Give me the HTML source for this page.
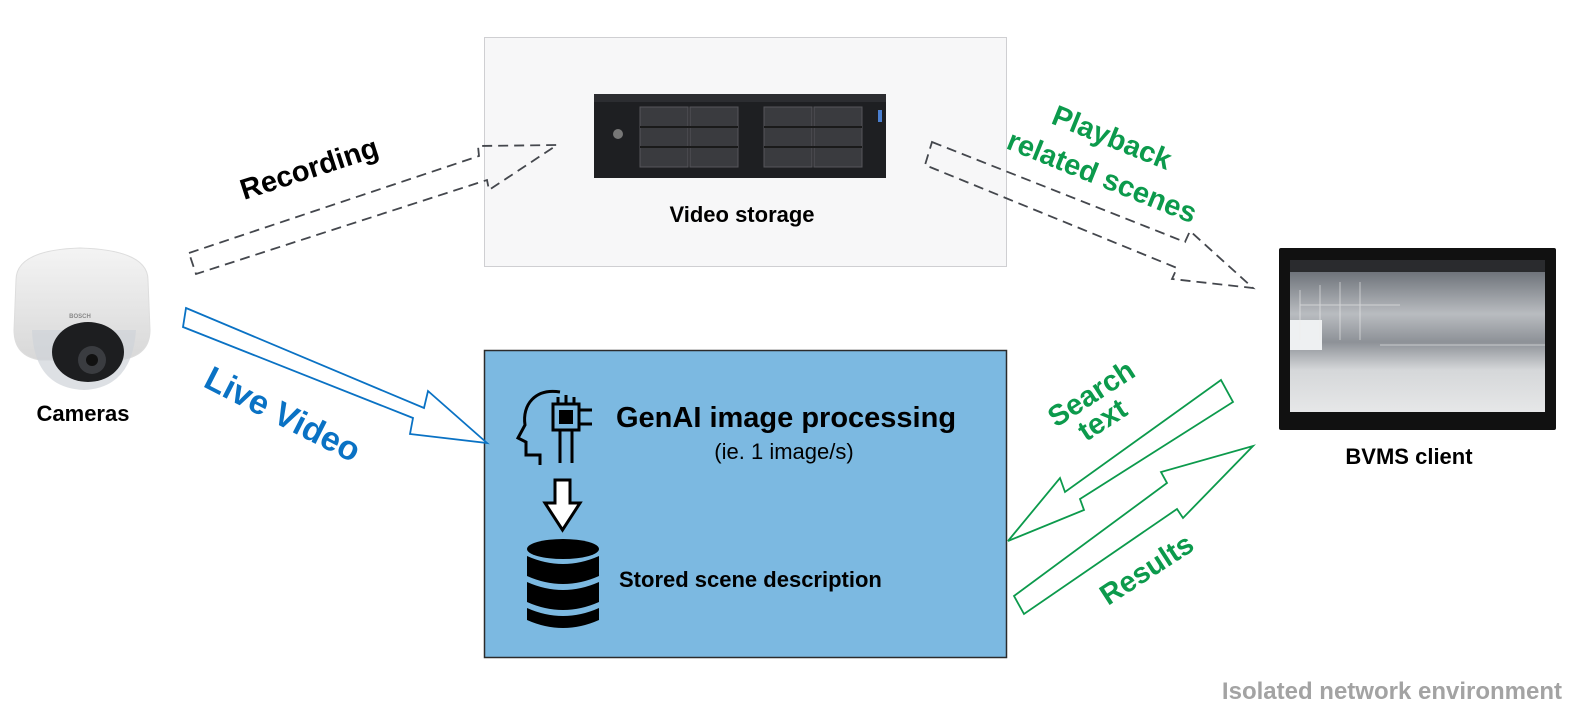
<!DOCTYPE html>
<html><head><meta charset="utf-8"><style>
html,body{margin:0;padding:0;background:#fff;}
svg{display:block;}
text{font-family:"Liberation Sans","DejaVu Sans",sans-serif;font-weight:bold;}
</style></head><body>
<svg width="1584" height="716" viewBox="0 0 1584 716" xmlns="http://www.w3.org/2000/svg">
<defs>
<linearGradient id="scr" x1="0" y1="0" x2="0" y2="1">
<stop offset="0" stop-color="#6f747b"/><stop offset="0.3" stop-color="#b9bcc0"/><stop offset="0.5" stop-color="#8d9197"/><stop offset="0.7" stop-color="#d5d7d9"/><stop offset="1" stop-color="#e6e7e8"/>
</linearGradient>
<linearGradient id="cam" x1="0" y1="0" x2="0" y2="1">
<stop offset="0" stop-color="#f4f4f4"/><stop offset="1" stop-color="#d8d8d8"/>
</linearGradient>
</defs>

<rect x="484.5" y="37.5" width="522" height="229" fill="#f7f7f8" stroke="#cfcfd2"/>
<rect x="594" y="94" width="292" height="84" fill="#1e1f22"/>
<rect x="594" y="94" width="292" height="8" fill="#2c2d31"/>
<g fill="#3a3b3f" stroke="#55565b" stroke-width="1">
<rect x="640" y="107" width="48" height="60"/><rect x="690" y="107" width="48" height="60"/>
<rect x="764" y="107" width="48" height="60"/><rect x="814" y="107" width="48" height="60"/>
</g>
<g stroke="#1a1a1a" stroke-width="2">
<line x1="640" y1="127" x2="738" y2="127"/><line x1="640" y1="147" x2="738" y2="147"/>
<line x1="764" y1="127" x2="862" y2="127"/><line x1="764" y1="147" x2="862" y2="147"/>
</g>
<circle cx="618" cy="134" r="5" fill="#777"/>
<rect x="878" y="110" width="4" height="12" fill="#4a7fd0"/>
<text x="742" y="222" font-size="22" text-anchor="middle" fill="#000">Video storage</text>

<rect x="484.5" y="350.5" width="522" height="307" fill="#7cb9e1" stroke="#2b2b2b" stroke-width="1.5"/>
<text x="616" y="427" font-size="29" fill="#000">GenAI image processing</text>
<text x="784" y="459" font-size="22" text-anchor="middle" fill="#000" style="font-weight:normal">(ie. 1 image/s)</text>
<text x="619" y="587" font-size="22" fill="#000">Stored scene description</text>
<g fill="none" stroke="#000" stroke-width="3">
<path d="M560 392 C535 388 522 405 525 425 L518 438 L526 442 L526 455 L540 455 L540 465"/>
<rect x="553" y="404" width="26" height="26"/>
<line x1="558" y1="397" x2="558" y2="404"/><line x1="566" y1="395" x2="566" y2="404"/><line x1="574" y1="397" x2="574" y2="404"/>
<line x1="579" y1="410" x2="592" y2="410"/><line x1="579" y1="424" x2="592" y2="424"/>
<line x1="560" y1="430" x2="560" y2="463"/><line x1="572" y1="430" x2="572" y2="463"/>
</g>
<rect x="559" y="410" width="14" height="14" fill="#000"/>
<path d="M555 480 H570 V503 H580 L562.5 530 L545 503 H555 Z" fill="#fff" stroke="#000" stroke-width="3"/>
<g fill="#000">
<ellipse cx="563" cy="549" rx="36" ry="10"/>
<path d="M527 556 Q563 572 599 556 V576 Q563 592 527 576 Z"/>
<path d="M527 582 Q563 598 599 582 V602 Q563 618 527 602 Z"/>
<path d="M527 608 Q563 624 599 608 V620 Q563 636 527 620 Z"/>
</g>

<path d="M16 280 Q16 250 80 248 Q148 250 148 280 L150 330 Q150 356 120 360 L40 360 Q14 356 14 330 Z" fill="url(#cam)" stroke="#ddd"/>
<path d="M32 330 Q34 388 84 390 Q132 388 136 330 Z" fill="#cfd3d8" opacity="0.7"/>
<ellipse cx="88" cy="352" rx="36" ry="30" fill="#1d1e20"/>
<circle cx="92" cy="360" r="14" fill="#3a3c40"/>
<circle cx="92" cy="360" r="6" fill="#111"/>
<text x="80" y="318" font-size="6" fill="#888" text-anchor="middle">BOSCH</text>
<text x="83" y="421" font-size="22" text-anchor="middle" fill="#000">Cameras</text>

<rect x="1279" y="248" width="277" height="182" fill="#111" rx="2"/>
<rect x="1290" y="272" width="255" height="140" fill="url(#scr)"/>
<rect x="1290" y="260" width="255" height="12" fill="#2a2b2e"/>
<rect x="1290" y="320" width="32" height="30" fill="#eef0f2"/>
<g stroke="#eee" stroke-width="1" opacity="0.6">
<line x1="1300" y1="290" x2="1300" y2="340"/><line x1="1320" y1="285" x2="1320" y2="340"/><line x1="1340" y1="282" x2="1340" y2="340"/><line x1="1360" y1="282" x2="1360" y2="340"/>
<line x1="1300" y1="305" x2="1400" y2="305"/><line x1="1380" y1="345" x2="1545" y2="345"/>
</g>
<text x="1409" y="464" font-size="22" text-anchor="middle" fill="#000">BVMS client</text>

<path d="M189 253 L479 156 L478 146 L557 145 L489 190 L487 180 L196 274 Z" fill="none" stroke="#44474d" stroke-width="1.8" stroke-dasharray="10 6"/>
<text transform="translate(244,200) rotate(-18)" font-size="29" fill="#000">Recording</text>

<path d="M932 142 L1185 242 L1190 231 L1253 288 L1172 279 L1177 268 L925 165 Z" fill="none" stroke="#44474d" stroke-width="1.8" stroke-dasharray="10 6"/>
<text transform="translate(1050,123) rotate(22)" font-size="29" fill="#0c9a4c">Playback</text>
<text transform="translate(1005,148) rotate(22)" font-size="29" fill="#0c9a4c">related scenes</text>

<path d="M186 308 L424 408 L428 391 L487 443 L410 434 L413 418 L183 327 Z" fill="#fff" stroke="#0a72c4" stroke-width="1.8"/>
<text transform="translate(202,386) rotate(27)" font-size="34" fill="#0a72c4">Live Video</text>

<path d="M1221 380 L1233 402 L1080 499 L1084 510 L1008 541 L1060 478 L1065 492 Z" fill="#fff" stroke="#0c9a4c" stroke-width="1.8"/>
<text transform="translate(1056,428) rotate(-33)" font-size="29" fill="#0c9a4c">Search</text>
<text transform="translate(1086,442) rotate(-33)" font-size="29" fill="#0c9a4c">text</text>

<path d="M1014 596 L1024 614 L1177 509 L1183 518 L1253 446 L1161 472 L1167 483 Z" fill="#fff" stroke="#0c9a4c" stroke-width="1.8"/>
<text transform="translate(1108,606) rotate(-33)" font-size="29" fill="#0c9a4c">Results</text>

<text x="1562" y="699" font-size="24" text-anchor="end" fill="#a3a3a3">Isolated network environment</text>
</svg>
</body></html>
